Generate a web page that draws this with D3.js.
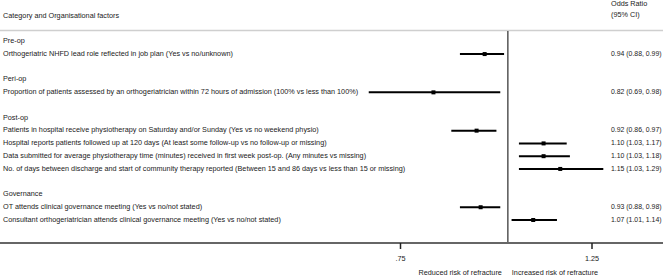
<!DOCTYPE html>
<html>
<head>
<meta charset="utf-8">
<script src="https://cdn.jsdelivr.net/npm/d3@7"></script>
<style>
body { margin: 0; background: #fff; }
text { font-family: "Liberation Sans", Arial, sans-serif; font-size: 7.25px; fill: #1a1a1a; }
text.ortext { font-size: 6.9px; }
</style>
</head>
<body>
<div id="plot"></div>
<script>
let svgWidth = 663;
let svgHeight = 276;

let groups = ["Pre-op", "Peri-op", "Post-op", "Governance"];
let factorGroup = ["Pre-op", "Peri-op", "Post-op", "Post-op", "Post-op", "Post-op", "Governance", "Governance"];
let factors = [
    "Orthogeriatric NHFD lead role reflected in job plan (Yes vs no/unknown)",
    "Proportion of patients assessed by an orthogeriatrician within 72 hours of admission (100% vs less than 100%)",
    "Patients in hospital receive physiotherapy on Saturday and/or Sunday (Yes vs no weekend physio)",
    "Hospital reports patients followed up at 120 days (At least some follow-up vs no follow-up or missing)",
    "Data submitted for average physiotherapy time (minutes) received in first week post-op. (Any minutes vs missing)",
    "No. of days between discharge and start of community therapy reported (Between 15 and 86 days vs less than 15 or missing)",
    "OT attends clinical governance meeting (Yes vs no/not stated)",
    "Consultant orthogeriatrician attends clinical governance meeting (Yes vs no/not stated)"
];
let oddsRatio = [0.94, 0.82, 0.92, 1.10, 1.10, 1.15, 0.93, 1.07];
let ciLow = [0.88, 0.69, 0.86, 1.03, 1.03, 1.03, 0.88, 1.01];
let ciHigh = [0.99, 0.98, 0.97, 1.17, 1.18, 1.29, 0.98, 1.14];
let tickValues = [0.75, 1.25];
let tickLabels = [".75", "1.25"];

// build row list: group header, then its factors, then a blank row
let rows = [];
groups.forEach(function(g, gi){
    rows.push({ type: 'group', label: g });
    factors.forEach(function(f, i){
        if(factorGroup[i] == g){
            rows.push({ type: 'factor', label: f, or: oddsRatio[i], lo: ciLow[i], hi: ciHigh[i] });
        }
    });
    if(gi < groups.length - 1) rows.push({ type: 'blank' });
});
rows.forEach((d, i) => d.idx = i);

let x = d3.scaleLog()
    .domain([0.75, 1.25])
    .range([400, 591.5]);

let y = d3.scaleLinear()
    .domain([0, rows.length - 1])
    .range([40.5, 219.2]);

let svg = d3.select('#plot')
    .append('svg')
        .attr('width', svgWidth)
        .attr('height', svgHeight);

// headers
svg.append('text').attr('x', 3).attr('y', 15).attr('dy', '0.35em').text('Category and Organisational factors');
svg.append('text').attr('x', 611).attr('y', 3).attr('dy', '0.35em').text('Odds Ratio');
svg.append('text').attr('x', 611).attr('y', 14).attr('dy', '0.35em').text('(95% CI)');

svg.append('line')
    .attr('x1', 0).attr('x2', svgWidth)
    .attr('y1', 30.5).attr('y2', 30.5)
    .attr('stroke', '#cfcfcf').attr('stroke-width', 1.5);

// null line
svg.append('line')
    .attr('x1', x(1)).attr('x2', x(1))
    .attr('y1', 31).attr('y2', 243)
    .attr('stroke', '#555').attr('stroke-width', 1.5);

// row labels
svg.selectAll('.rowlabel')
    .data(rows.filter(d => d.type != 'blank'))
    .enter()
    .append('text')
    .attr('class', 'rowlabel')
    .attr('x', 3)
    .attr('y', d => y(d.idx))
    .attr('dy', '0.35em')
    .text(d => d.label);

let fr = rows.filter(d => d.type == 'factor');

svg.selectAll('.ci')
    .data(fr)
    .enter()
    .append('line')
    .attr('class', 'ci')
    .attr('x1', d => x(d.lo))
    .attr('x2', d => x(d.hi))
    .attr('y1', d => y(d.idx) + 0.8)
    .attr('y2', d => y(d.idx) + 0.8)
    .attr('stroke', '#000')
    .attr('stroke-width', 2);

svg.selectAll('.pt')
    .data(fr)
    .enter()
    .append('rect')
    .attr('class', 'pt')
    .attr('x', d => x(d.or) - 2)
    .attr('y', d => y(d.idx) + 0.8 - 2)
    .attr('width', 4)
    .attr('height', 4)
    .attr('fill', '#000');

svg.selectAll('.ortext')
    .data(fr)
    .enter()
    .append('text')
    .attr('class', 'ortext')
    .attr('x', 611)
    .attr('y', d => y(d.idx))
    .attr('dy', '0.35em')
    .text(d => d3.format('.2f')(d.or) + ' (' + d3.format('.2f')(d.lo) + ', ' + d3.format('.2f')(d.hi) + ')');

// x axis
svg.append('line')
    .attr('x1', 0).attr('x2', svgWidth)
    .attr('y1', 243).attr('y2', 243)
    .attr('stroke', '#666').attr('stroke-width', 2);

let xAxis = d3.axisBottom(x)
    .tickValues(tickValues)
    .tickFormat((d, i) => tickLabels[i])
    .tickSize(6)
    .tickPadding(7);

let ax = svg.append('g')
    .attr('transform', 'translate(0,243)')
    .call(xAxis);
ax.select('.domain').remove();
ax.selectAll('.tick line').attr('stroke', '#222').attr('stroke-width', 1.5);
ax.selectAll('.tick text').attr('font-size', null).attr('font-family', null);

svg.append('text').attr('x', x(1) - 6).attr('y', 272).attr('dy', '0.35em')
    .attr('text-anchor', 'end').text('Reduced risk of refracture');
svg.append('text').attr('x', x(1) + 4).attr('y', 272).attr('dy', '0.35em')
    .text('Increased risk of refracture');
</script>
</body>
</html>
